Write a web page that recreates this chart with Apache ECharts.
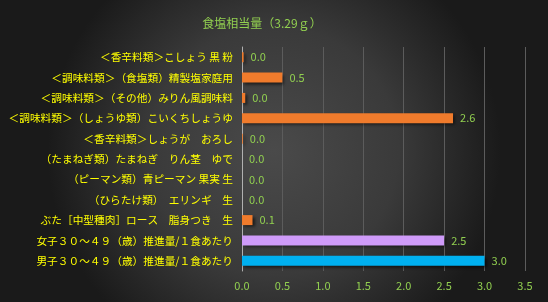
<!DOCTYPE html>
<html><head><meta charset="utf-8">
<script src="https://cdn.jsdelivr.net/npm/echarts@6/dist/echarts.min.js"></script>
<style>html,body{margin:0;padding:0;background:#333;}#c{width:548px;height:302px;}</style>
</head><body><div id="c"></div>
<script>
const title = '食塩相当量（3.29ｇ）';
const categories = [
  '＜香辛料類＞こしょう 黒 粉',
  '＜調味料類＞（食塩類）精製塩家庭用',
  '＜調味料類＞（その他）みりん風調味料',
  '＜調味料類＞（しょうゆ類）こいくちしょうゆ',
  '＜香辛料類＞しょうが　おろし',
  '（たまねぎ類）たまねぎ　りん茎　ゆで',
  '（ピーマン類）青ピーマン 果実 生',
  '（ひらたけ類）　エリンギ　生',
  'ぶた［中型種肉］ロース　脂身つき　生',
  '女子３０～４９（歳）推進量/１食あたり',
  '男子３０～４９（歳）推進量/１食あたり'
];
const values = [0.02, 0.5, 0.04, 2.61, 0.01, 0, 0, 0, 0.13, 2.5, 3.0];
const xTicks = [0, 0.5, 1.0, 1.5, 2.0, 2.5, 3.0, 3.5];

const barColors = ['#F07B2C','#F07B2C','#F07B2C','#F07B2C','#F07B2C','#F07B2C','#F07B2C','#F07B2C','#F07B2C','#CF9BF9','#00B0F0'];

const chart = echarts.init(document.getElementById('c'), null, {renderer:'canvas'});
chart.setOption({
  backgroundColor: new echarts.graphic.RadialGradient(0.5, 0.5, 0.75, [
    {offset:0, color:'#4a4a4a'},
    {offset:0.55, color:'#3a3a3a'},
    {offset:1, color:'#1a1a1a'}
  ]),
  animation:false,
  title:{text:title, left:257, top:12, textAlign:'center',
    textStyle:{color:'#92D050', fontSize:12, fontWeight:'normal', fontFamily:'Noto Sans CJK JP'}},
  grid:{left:242, right:23, top:47, bottom:31},
  xAxis:{type:'value', min:xTicks[0], max:xTicks[xTicks.length-1], interval:0.5,
    axisLine:{show:false}, axisTick:{show:false},
    axisLabel:{color:'#92D050', fontSize:11, margin:9, fontFamily:'Noto Sans CJK JP',
      formatter:v=>v.toFixed(1)},
    splitLine:{show:true, lineStyle:{color:'#5c5c5c', width:1}}},
  yAxis:{type:'category', data:categories, inverse:true,
    axisLine:{show:true, lineStyle:{color:'#b0b0b0', width:1}}, axisTick:{show:false},
    axisLabel:{color:'#FFFF00', fontSize:10.7, margin:9, fontFamily:'Noto Sans CJK JP'}},
  series:[{type:'bar', data:values, barWidth:10,
    itemStyle:{color:p=>barColors[p.dataIndex], shadowColor:'rgba(0,0,0,0.6)', shadowBlur:3, shadowOffsetX:2, shadowOffsetY:2},
    label:{show:true, position:'right', distance:7, color:'#92D050', fontSize:11, fontFamily:'Noto Sans CJK JP',
      formatter:p=>p.value.toFixed(1)}}]
});
</script></body></html>
